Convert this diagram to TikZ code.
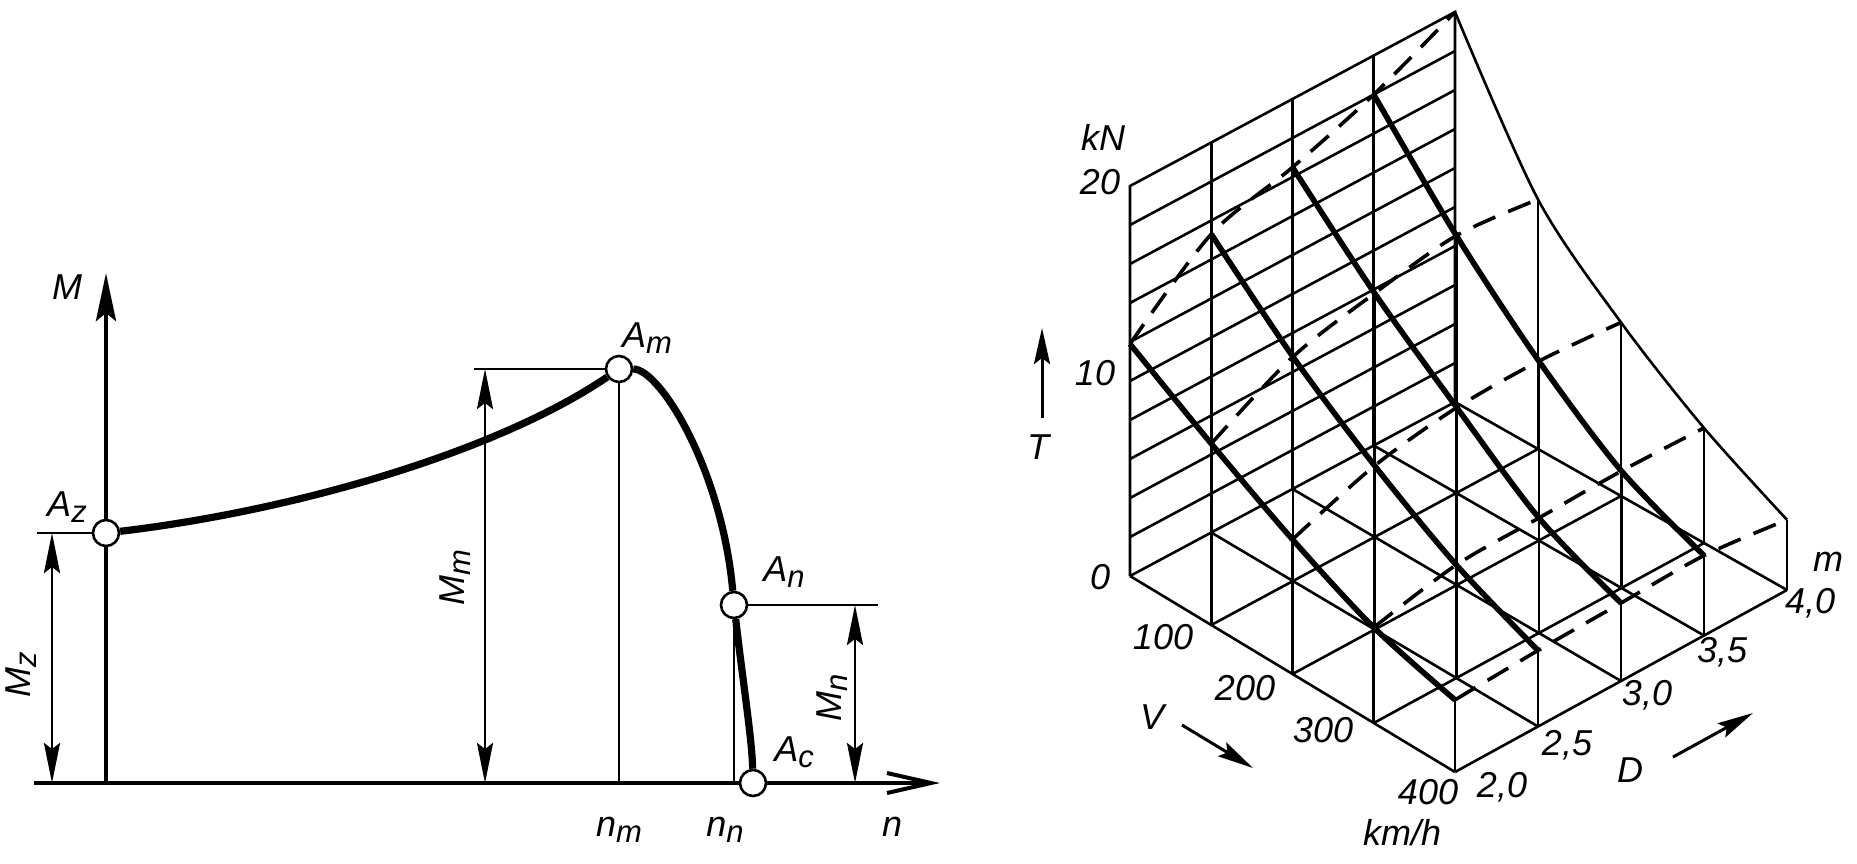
\documentclass[tikz,border=0pt]{standalone}
\usepackage{fontspec}
\setmainfont{Liberation Sans}
\usetikzlibrary{arrows.meta}

\newcommand{\lo}[1]{\raisebox{-0.3ex}{\fontsize{15.5}{15.5}\selectfont #1}}
\newcommand{\px}[2]{1130+81.25*#1+81.25*#2+0.4375*#1*#2}
\newcommand{\py}[3]{576+49*#1-43.5*#2-0.5*#1*#2-19.5*#3}

\begin{document}
\begin{tikzpicture}[
    x=0.5pt, y=-0.5pt,
    every node/.style={font=\fontsize{18}{21}\selectfont\itshape, inner sep=1pt},
    pnt/.style={draw, circle, fill=white, line width=1.3pt, minimum size=13pt, inner sep=0pt},
    wire/.style={line width=1.3pt},
    heavy/.style={line width=2.8pt},
    dashline/.style={line width=1.8pt, dash pattern=on 12pt off 7pt},
    dim/.style={line width=1.4pt, {Stealth[length=20pt,width=8pt,inset=3pt]}-{Stealth[length=20pt,width=8pt,inset=3pt]}},
    dir/.style={line width=1.5pt, -{Stealth[length=18pt,width=8pt,inset=3pt]}}
]
% Set manual bounding box
\useasboundingbox (0,0) rectangle (1857,863);

% Characteristic points
\node[pnt] (Az) at (106,533) {};
\node[pnt] (Am) at (619,369) {};
\node[pnt] (An) at (734,605) {};
\node[pnt] (Ac) at (753,783) {};

\coordinate (O) at (106,783);
\coordinate (Mtop) at (106,273);
\coordinate (nleft) at (34,783);
\coordinate (nright) at (940,783);

% Axes
\draw[line width=2.4pt, -{Stealth[length=24pt,width=10pt,inset=4pt]}] (O) -- (Az) -- (Mtop);
\draw[line width=2pt, -{Straight Barb[length=22pt,width=10pt]}] (nleft) -- (Ac) -- (nright);

% Curve
\draw[line width=3.6pt] (Az) .. controls (300,510) and (500,450) .. (Am);
\draw[line width=3.6pt] (Am) .. controls (660,369) and (722,470) .. (An) .. controls (744,690) and (752,740) .. (Ac);

% Dimensions
\coordinate (Mz0) at (37,533);
\coordinate (Mzt) at (52,533);
\coordinate (Mzb) at (52,783);
\draw[wire] (Mz0) -- (Az);
\draw[dim] (Mzt) -- (Mzb);

\coordinate (Mm0) at (474,369);
\coordinate (Mmt) at (485,369);
\coordinate (Mmb) at (485,783);
\draw[wire] (Mm0) -- (Am);
\draw[dim] (Mmt) -- (Mmb);
\draw[wire] (Am) -- (Am |- O);

\coordinate (Mn0) at (878,605);
\coordinate (Mnt) at (855,605);
\coordinate (Mnb) at (855,783);
\draw[wire] (An) -- (Mn0);
\draw[dim] (Mnt) -- (Mnb);
\draw[wire] (An) -- (An |- O);

% Labels
\node (Ml) at (67,287) {M};
\node (Azl) at (67,507) {A\lo{z}};
\node (Aml) at (647,338) {A\lo{m}};
\node (Anl) at (784,572) {A\lo{n}};
\node (Acl) at (794,752) {A\lo{c}};
\node[rotate=90] (Mzl) at (21,675) {M\lo{z}};
\node[rotate=90] (Mml) at (455,578) {M\lo{m}};
\node[rotate=90] (Mnl) at (832,698) {M\lo{n}};
\node (nml) at (619,830) {n\lo{m}};
\node (nnl) at (725,830) {n\lo{n}};
\node (nl) at (892,827) {n};

% Thrust surface: floor, wall and surface points
\foreach \v in {0,...,4}
  \foreach \d in {0,...,4}
    \coordinate (f-\v-\d) at ({\px{\v}{\d}},{\py{\v}{\d}{0}});
\foreach \d in {0,...,4}
  \coordinate (w-\d) at ({\px{0}{\d}},{\py{0}{\d}{20}});
\foreach \d/\ts in {0/{11.9,9.3,6.9,4.9,3.7},1/{15.3,11.5,8.4,5.8,3.9},2/{16.5,12.5,9.1,5.9,4.0},3/{18.0,13.2,9.2,6.0,4.1},4/{20.0,12.8,8.9,5.9,3.6}}
  \foreach \t [count=\v from 0] in \ts
    \coordinate (s-\v-\d) at ({\px{\v}{\d}},{\py{\v}{\d}{\t}});

% Back wall
\draw[wire] (f-0-0) -- (w-0) -- (w-4) -- (f-0-4);
\foreach \d in {1,2,3}
  \draw[wire] (f-0-\d) -- (w-\d);
\foreach \t in {2,4,...,18}
  \draw[wire] ({\px{0}{0}},{\py{0}{0}{\t}}) -- ({\px{0}{4}},{\py{0}{4}{\t}});

% Floor
\foreach \i in {0,...,4} {
  \draw[wire] (f-\i-0) -- (f-\i-4);
  \draw[wire] (f-0-\i) -- (f-4-\i);
}

% Verticals
\foreach \v in {1,...,4}
  \foreach \d in {0,...,4}
    \draw[wire] (f-\v-\d) -- (s-\v-\d);

% Surface lines
\foreach \d in {0,...,3}
  \draw[heavy] plot[smooth] coordinates {(s-0-\d) (s-1-\d) (s-2-\d) (s-3-\d) (s-4-\d)};
\draw[wire] plot[smooth] coordinates {(s-0-4) (s-1-4) (s-2-4) (s-3-4) (s-4-4)};
\foreach \v in {0,...,4}
  \draw[dashline] plot[smooth] coordinates {(s-\v-0) (s-\v-1) (s-\v-2) (s-\v-3) (s-\v-4)};

% Axis labels
\node (kN) at (1103,137) {kN};
\node (t20) at (1100,182) {20};
\node (t10) at (1095,373) {10};
\node (t0) at (1100,577) {0};
\node (v100) at (1163,637) {100};
\node (v200) at (1245,688) {200};
\node (v300) at (1323,730) {300};
\node (v400) at (1428,792) {400};
\node (kmh) at (1402,833) {km/h};
\node (d20) at (1502,787) {2,0};
\node (d25) at (1567,745) {2,5};
\node (d30) at (1647,695) {3,0};
\node (d35) at (1722,652) {3,5};
\node (d40) at (1810,603) {4,0};
\node (mu) at (1828,562) {m};

\node (Tl) at (1038,447) {T};
\node (Vl) at (1152,717) {V};
\node (Dl) at (1630,770) {D};

% Direction arrows
\coordinate (Ta) at (1042,418);
\coordinate (Tb) at (1042,328);
\coordinate (Va) at (1182,725);
\coordinate (Vb) at (1253,768);
\coordinate (Da) at (1673,757);
\coordinate (Db) at (1753,713);
\draw[dir] (Ta) -- (Tb);
\draw[dir] (Va) -- (Vb);
\draw[dir] (Da) -- (Db);

\end{tikzpicture}
\end{document}
